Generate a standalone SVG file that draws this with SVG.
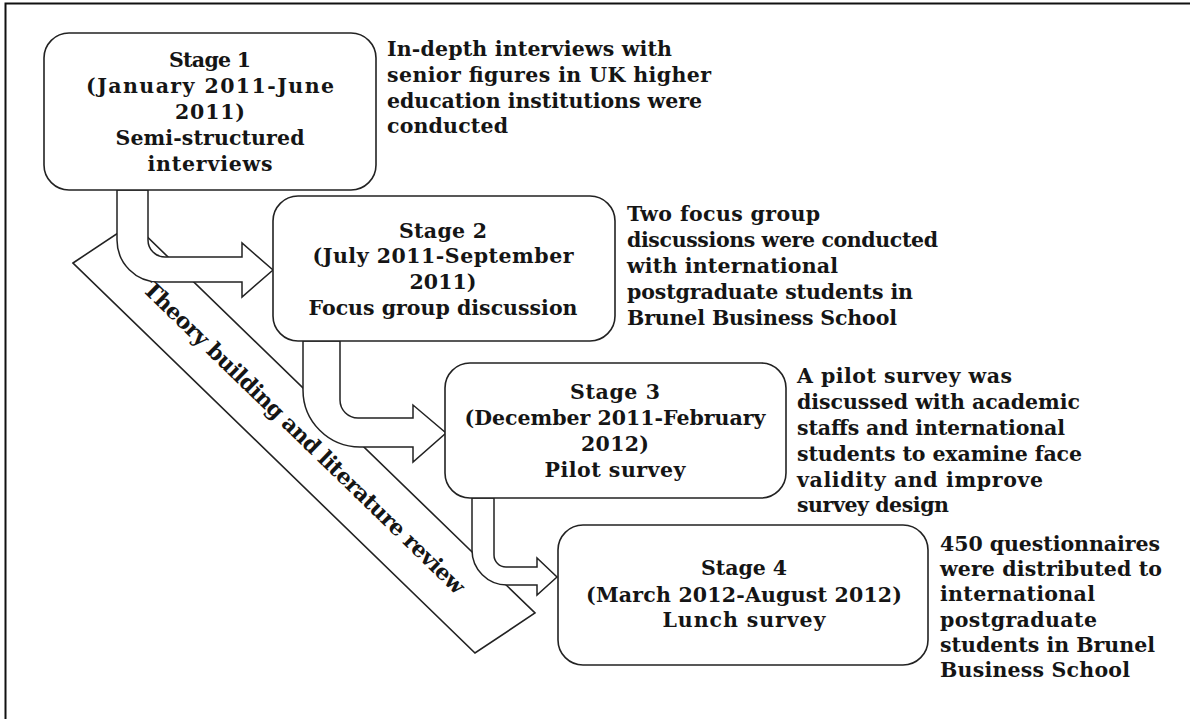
<svg xmlns="http://www.w3.org/2000/svg" width="1190" height="719" viewBox="0 0 1190 719">
  <style>
    .frame { fill: none; stroke: #111; stroke-width: 2; }
    .box { fill: #fff; stroke: #222; stroke-width: 1.6; }
    .band { fill: #fff; stroke: #222; stroke-width: 1.6; }
    .arrow { fill: #fff; stroke: #222; stroke-width: 1.5; stroke-linejoin: miter; }
    text { font-family: "DejaVu Serif", "Liberation Serif", serif; font-weight: bold; font-size: 20.5px; fill: #151515; }
    .c { text-anchor: middle; }
    .lab { font-size: 22px; }
  </style>

  <!-- page frame: top and left rules only -->
  <path class="frame" d="M5.5,719 V3.5 H1190"/>

  <!-- diagonal band behind the stage arrows -->
  <g id="theory-band">
    <polygon class="band" points="73,263 133,223 535,613 475,653"/>
    <text class="c lab" transform="translate(304,438) rotate(44.1)" x="0" y="7" textLength="438" lengthAdjust="spacing">Theory building and literature review</text>
  </g>

  <!-- bent block arrows between stages -->
  <g id="connectors">
    <path class="arrow" d="M117,190 V240 A42,42 0 0 0 159,282 H242 V297 L273,270 L242,243 V257 H165 A17,17 0 0 1 148,240 V190 Z"/>
    <path class="arrow" d="M303,341 V390 A57,57 0 0 0 360,447 H413 V462 L446,433 L413,405 V418 H358 A18,18 0 0 1 340,400 V341 Z"/>
    <path class="arrow" d="M472,498 V550 A35,35 0 0 0 507,585 H537 V595 L557,577 L537,558 V567 H506 A12,12 0 0 1 494,555 V498 Z"/>
  </g>

  <g id="stage1">
    <rect class="box" x="44" y="33" width="332" height="157" rx="25"/>
    <text class="c" x="210" y="67" textLength="82" lengthAdjust="spacing">Stage 1</text>
    <text class="c" x="210" y="93" textLength="248" lengthAdjust="spacing">(January 2011-June</text>
    <text class="c" x="210" y="119" textLength="70" lengthAdjust="spacing">2011)</text>
    <text class="c" x="210" y="145" textLength="189" lengthAdjust="spacing">Semi-structured</text>
    <text class="c" x="210" y="171" textLength="125" lengthAdjust="spacing">interviews</text>
    <text x="387" y="56" textLength="285" lengthAdjust="spacing">In-depth interviews with</text>
    <text x="387" y="82" textLength="324" lengthAdjust="spacing">senior figures in UK higher</text>
    <text x="387" y="108" textLength="315" lengthAdjust="spacing">education institutions were</text>
    <text x="387" y="133" textLength="121" lengthAdjust="spacing">conducted</text>
  </g>

  <g id="stage2">
    <rect class="box" x="273" y="196" width="342" height="145" rx="25"/>
    <text class="c" x="443" y="238" textLength="88" lengthAdjust="spacing">Stage 2</text>
    <text class="c" x="443" y="263" textLength="261" lengthAdjust="spacing">(July 2011-September</text>
    <text class="c" x="443" y="289" textLength="67" lengthAdjust="spacing">2011)</text>
    <text class="c" x="443" y="315" textLength="269" lengthAdjust="spacing">Focus group discussion</text>
    <text x="627" y="221" textLength="193" lengthAdjust="spacing">Two focus group</text>
    <text x="627" y="247" textLength="311" lengthAdjust="spacing">discussions were conducted</text>
    <text x="627" y="273" textLength="211" lengthAdjust="spacing">with international</text>
    <text x="627" y="299" textLength="286" lengthAdjust="spacing">postgraduate students in</text>
    <text x="627" y="325" textLength="270" lengthAdjust="spacing">Brunel Business School</text>
  </g>

  <g id="stage3">
    <rect class="box" x="445" y="363" width="341" height="135" rx="25"/>
    <text class="c" x="615" y="399" textLength="90" lengthAdjust="spacing">Stage 3</text>
    <text class="c" x="615" y="425" textLength="301" lengthAdjust="spacing">(December 2011-February</text>
    <text class="c" x="615" y="451" textLength="68" lengthAdjust="spacing">2012)</text>
    <text class="c" x="615" y="477" textLength="141" lengthAdjust="spacing">Pilot survey</text>
    <text x="797" y="383" textLength="215" lengthAdjust="spacing">A pilot survey was</text>
    <text x="797" y="409" textLength="283" lengthAdjust="spacing">discussed with academic</text>
    <text x="797" y="435" textLength="268" lengthAdjust="spacing">staffs and international</text>
    <text x="797" y="461" textLength="285" lengthAdjust="spacing">students to examine face</text>
    <text x="797" y="487" textLength="246" lengthAdjust="spacing">validity and improve</text>
    <text x="797" y="512" textLength="152" lengthAdjust="spacing">survey design</text>
  </g>

  <g id="stage4">
    <rect class="box" x="558" y="525" width="370" height="140" rx="25"/>
    <text class="c" x="744" y="575" textLength="86" lengthAdjust="spacing">Stage 4</text>
    <text class="c" x="744" y="602" textLength="316" lengthAdjust="spacing">(March 2012-August 2012)</text>
    <text class="c" x="744" y="627" textLength="163" lengthAdjust="spacing">Lunch survey</text>
    <text x="940" y="551" textLength="220" lengthAdjust="spacing">450 questionnaires</text>
    <text x="940" y="576" textLength="222" lengthAdjust="spacing">were distributed to</text>
    <text x="940" y="601" textLength="155" lengthAdjust="spacing">international</text>
    <text x="940" y="627" textLength="157" lengthAdjust="spacing">postgraduate</text>
    <text x="940" y="652" textLength="215" lengthAdjust="spacing">students in Brunel</text>
    <text x="940" y="677" textLength="190" lengthAdjust="spacing">Business School</text>
  </g>
</svg>
